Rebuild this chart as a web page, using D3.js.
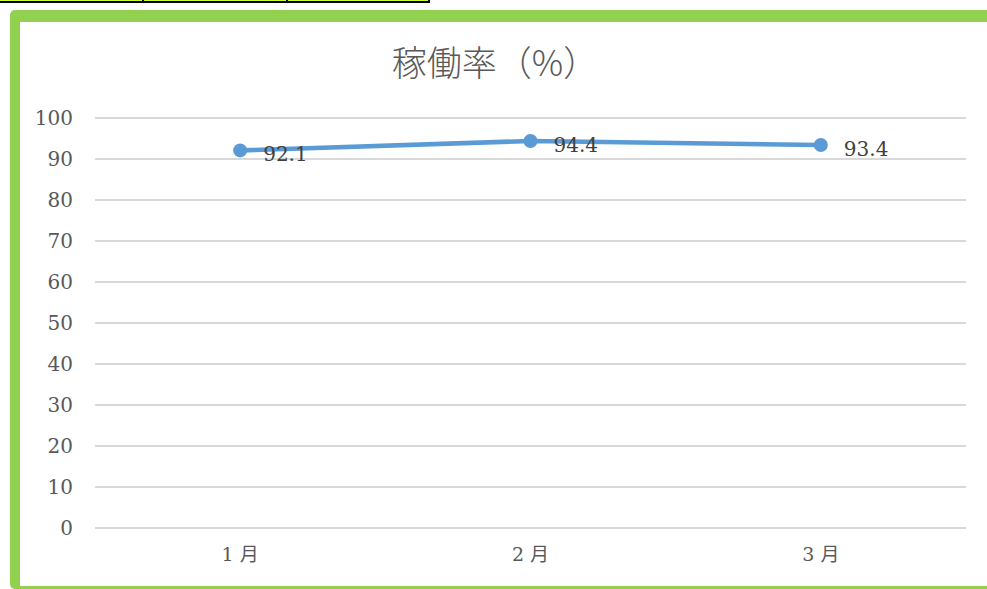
<!DOCTYPE html>
<html>
<head>
<meta charset="utf-8">
<script src="https://cdn.jsdelivr.net/npm/d3@7"></script>
<style>
  html, body { margin: 0; padding: 0; background: #fff; overflow: hidden; }
</style>
</head>
<body>
<div id="chart"></div>
<script>
// ── 稼働率 line chart ──

const months = ['1 月', '2 月', '3 月']
const rates = [92.1, 94.4, 93.4]
const yTicks = [0, 10, 20, 30, 40, 50, 60, 70, 80, 90, 100]

const width = 987, height = 589
const green = '#92d050'
const textColor = '#595959'
const serif = "'DejaVu Serif', 'Liberation Serif', serif"

const svg = d3.select('#chart')
  .append('svg')
  .attr('width', width)
  .attr('height', height)

// table row remnant at the very top
svg.append('rect').attr('x', 0).attr('y', 0).attr('width', 429).attr('height', 1).attr('fill', '#ccff33')
svg.append('rect').attr('x', 0).attr('y', 1).attr('width', 429).attr('height', 2).attr('fill', '#000')
;[142, 286, 428].forEach(x => {
  svg.append('rect').attr('x', x).attr('y', 0).attr('width', 2).attr('height', 3).attr('fill', '#000')
})

// green frame (cut off on the right)
svg.append('rect')
  .attr('x', 10).attr('y', 10)
  .attr('width', 1020).attr('height', 579)
  .attr('rx', 5)
  .attr('fill', green)
svg.append('rect')
  .attr('x', 20).attr('y', 22)
  .attr('width', 1000).attr('height', 564)
  .attr('fill', '#fff')

const plot = { left: 95, right: 966, top: 118, bottom: 528 }

const x = d3.scaleBand().domain(months).range([plot.left, plot.right])
const y = d3.scaleLinear().domain([0, 100]).range([plot.bottom, plot.top])

// gridlines
svg.append('g')
  .selectAll('line')
  .data(yTicks)
  .join('line')
  .attr('x1', plot.left)
  .attr('x2', plot.right)
  .attr('y1', d => y(d))
  .attr('y2', d => y(d))
  .attr('stroke', '#d9d9d9')
  .attr('stroke-width', 2)

// y axis labels
const yAxis = svg.append('g')
  .attr('transform', `translate(${plot.left},0)`)
  .call(d3.axisLeft(y).tickValues(yTicks).tickSize(0).tickPadding(22))
yAxis.select('.domain').remove()
yAxis.selectAll('text')
  .attr('fill', textColor)
  .attr('font-family', serif)
  .attr('font-size', 20)

// x axis labels
const xAxis = svg.append('g')
  .attr('transform', `translate(0,${plot.bottom})`)
  .call(d3.axisBottom(x).tickSize(0).tickPadding(20))
xAxis.select('.domain').remove()
xAxis.selectAll('text')
  .attr('fill', textColor)
  .attr('font-family', "'DejaVu Serif', 'Noto Sans CJK JP', serif")
  .attr('font-size', 19)

// title
svg.append('text')
  .attr('x', 495)
  .attr('y', 76)
  .attr('text-anchor', 'middle')
  .attr('fill', textColor)
  .attr('font-family', "'Noto Sans CJK JP', sans-serif")
  .attr('font-weight', 300)
  .attr('font-size', 35)
  .text('稼働率（%）')

// line
const line = d3.line()
  .x((d, i) => x(months[i]) + x.bandwidth() / 2)
  .y(d => y(d))

svg.append('path')
  .datum(rates)
  .attr('d', line)
  .attr('fill', 'none')
  .attr('stroke', '#5b9bd5')
  .attr('stroke-width', 4.5)
  .attr('stroke-linejoin', 'round')

svg.append('g')
  .selectAll('circle')
  .data(rates)
  .join('circle')
  .attr('cx', (d, i) => x(months[i]) + x.bandwidth() / 2)
  .attr('cy', d => y(d))
  .attr('r', 7)
  .attr('fill', '#5b9bd5')

// data labels
svg.append('g')
  .selectAll('text')
  .data(rates)
  .join('text')
  .attr('x', (d, i) => x(months[i]) + x.bandwidth() / 2 + 23)
  .attr('y', d => y(d) + 11)
  .attr('fill', '#404040')
  .attr('font-family', serif)
  .attr('font-size', 20)
  .text(d => d.toFixed(1))
</script>
</body>
</html>
